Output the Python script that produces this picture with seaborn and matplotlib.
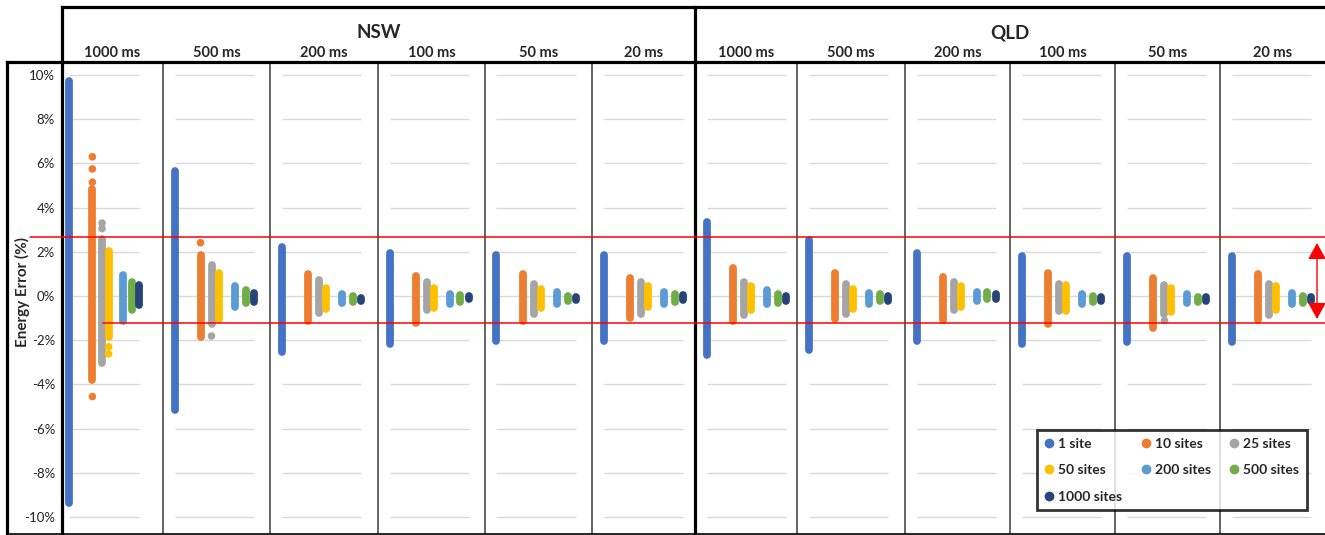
import matplotlib
matplotlib.use("Agg")
import matplotlib.pyplot as plt
from matplotlib.lines import Line2D
from matplotlib import transforms
import numpy as np
import pandas as pd
import seaborn as sns

# ---- data (energy error %, low / high of each strip of dots) ----
regions = ["NSW", "QLD"]
intervals = ["1000 ms", "500 ms", "200 ms", "100 ms", "50 ms", "20 ms"]
series = ["1 site", "10 sites", "25 sites", "50 sites", "200 sites", "500 sites", "1000 sites"]

# one (low, high) pair per panel: NSW 1000..20 ms, then QLD 1000..20 ms
s1 = [(-9.35, 9.75), (-5.15, 5.65), (-2.52, 2.2), (-2.15, 1.95), (-2.05, 1.85), (-2.05, 1.85),
      (-2.65, 3.35), (-2.45, 2.52), (-2.05, 1.95), (-2.15, 1.8), (-2.1, 1.8), (-2.1, 1.8)]
s10 = [(-3.8, 4.85), (-1.85, 1.85), (-1.12, 0.98), (-1.21, 0.9), (-1.15, 0.98), (-0.98, 0.8),
       (-1.15, 1.25), (-1.02, 1.05), (-1.07, 0.85), (-1.25, 1.05), (-1.43, 0.8), (-1.07, 0.98)]
s25 = [(-3.05, 2.6), (-1.25, 1.4), (-0.75, 0.71), (-0.62, 0.62), (-0.8, 0.53), (-0.8, 0.62),
       (-0.85, 0.62), (-0.8, 0.53), (-0.62, 0.62), (-0.66, 0.53), (-0.8, 0.48), (-0.85, 0.53)]
s50 = [(-1.85, 2.05), (-1.05, 1.05), (-0.6, 0.35), (-0.53, 0.35), (-0.53, 0.3), (-0.48, 0.45),
       (-0.62, 0.45), (-0.57, 0.3), (-0.48, 0.43), (-0.66, 0.48), (-0.71, 0.35), (-0.62, 0.43)]
s200 = [(-1.15, 0.95), (-0.48, 0.43), (-0.3, 0.08), (-0.35, 0.08), (-0.35, 0.17), (-0.35, 0.17),
        (-0.35, 0.25), (-0.35, 0.12), (-0.21, 0.17), (-0.35, 0.08), (-0.3, 0.08), (-0.35, 0.12)]
s500 = [(-0.62, 0.62), (-0.3, 0.25), (-0.26, 0.0), (-0.26, 0.03), (-0.21, -0.01), (-0.26, 0.08),
        (-0.3, 0.08), (-0.21, 0.08), (-0.15, 0.17), (-0.26, -0.01), (-0.26, -0.06), (-0.3, -0.01)]
s1000 = [(-0.4, 0.49), (-0.25, 0.15), (-0.21, -0.07), (-0.15, -0.01), (-0.17, -0.03), (-0.17, 0.03),
         (-0.21, -0.01), (-0.21, -0.01), (-0.12, 0.08), (-0.21, -0.06), (-0.21, -0.06), (-0.21, -0.06)]
ranges = [s1, s10, s25, s50, s200, s500, s1000]

# isolated dots outside the continuous strips: (panel index, series, value)
extra_points = [(0, "10 sites", 6.3), (0, "10 sites", 5.75), (0, "10 sites", 5.15), (0, "10 sites", -4.55),
                (0, "25 sites", 3.3), (0, "25 sites", 3.05),
                (0, "50 sites", -2.3), (0, "50 sites", -2.62),
                (1, "10 sites", 2.41), (1, "25 sites", -1.81),
                (10, "25 sites", -1.1)]

band = [2.67, -1.22]      # red reference lines
arrow_span = [2.40, -1.04]
yticks = list(range(-10, 11, 2))
ytick_labels = [f"{t}%" for t in yticks]

colors = ["#4472C4", "#ED7D31", "#A5A5A5", "#FFC000", "#5B9BD5", "#70AD47", "#264478"]
palette = dict(zip(series, colors))
offsets = [0, 26, 37, 44.5, 60.5, 71, 79.5]   # x position of each strip inside a panel
xpos = dict(zip(series, offsets))

rows = []
for s, rr in zip(series, ranges):
    for p, (lo, hi) in enumerate(rr):
        rows.append((p, s, xpos[s], lo))
        rows.append((p, s, xpos[s], hi))
df = pd.DataFrame(rows, columns=["panel", "series", "x", "value"])
pts = pd.DataFrame(extra_points, columns=["panel", "series", "value"])
pts["x"] = pts["series"].map(xpos)

# ---- figure ----
sns.set_style("white")
plt.rcParams["font.family"] = ["Lato", "DejaVu Sans"]

W, H = 1325, 535
fig = plt.figure(figsize=(W / 100, H / 100), dpi=100)


def fx(px):
    return px / W


def fy(py):
    return 1 - py / H


edges = [62, 163, 270, 378, 485, 592, 695, 797, 905, 1010, 1115, 1220, 1325]
top_px, bot_px = 62, 533
ylim = ((296 - bot_px) / 22.1, (296 - top_px) / 22.1)

axes = []
for i in range(12):
    l, r = edges[i], edges[i + 1]
    w = r - l
    ax = fig.add_axes([fx(l), fy(bot_px), w / W, (bot_px - top_px) / H])
    axes.append(ax)
    if i == 0:
        ax.set_xlim(-8.5, -8.5 + w / 0.88)
    else:
        ax.set_xlim(-11.5, w - 11.5)
    ax.set_ylim(*ylim)
    ax.hlines(yticks, offsets[0], offsets[-1], color="#d9d9d9", lw=1, zorder=0)

    d = df[df["panel"] == i]
    sns.lineplot(data=d, x="x", y="value", hue="series", units="series", estimator=None,
                 sort=False, palette=palette, lw=5.6, solid_capstyle="round", legend=False, ax=ax)
    p = pts[pts["panel"] == i]
    if len(p):
        sns.scatterplot(data=p, x="x", y="value", hue="series", palette=palette, s=30,
                        linewidth=0, legend=False, ax=ax, zorder=3)

    ax.set_xlabel("")
    ax.set_ylabel("")
    ax.set_xticks([])
    for sp in ["top", "right", "bottom"]:
        ax.spines[sp].set_visible(False)
    if i in (0, 6):
        ax.spines["left"].set_visible(False)
    else:
        ax.spines["left"].set_color("#3a3a3a")
        ax.spines["left"].set_linewidth(1.1)
    if i == 0:
        ax.set_yticks(yticks)
        ax.set_yticklabels(ytick_labels)
        ax.tick_params(axis="y", length=0, pad=5, labelsize=9.5, labelcolor="#222222")
    else:
        ax.set_yticks([])
    ax.text(0.5, 1 + 9 / (bot_px - top_px), intervals[i % 6], transform=ax.transAxes,
            ha="center", va="center", fontsize=10.5, fontweight="bold")

# region headers
fig.text(fx(378.5), fy(33), regions[0], ha="center", va="center", fontsize=13.5, fontweight="bold")
fig.text(fx(1010), fy(33), regions[1], ha="center", va="center", fontsize=13.5, fontweight="bold")
fig.text(fx(22.5), fy(292), "Energy Error (%)", rotation=90, ha="center", va="center",
         fontsize=11, fontweight="bold")

# frame lines
thick = dict(color="black", lw=2.3, transform=fig.transFigure, solid_capstyle="projecting")
frame = [([62, 1325], [7, 7]), ([62, 1325], [62, 62]), ([7, 62], [62, 62]),
         ([62, 62], [7, 535]), ([695, 695], [7, 535]), ([7, 7], [62, 535])]
for xs, ys in frame:
    fig.add_artist(Line2D([fx(v) for v in xs], [fy(v) for v in ys], **thick))
fig.add_artist(Line2D([fx(7), fx(1325)], [fy(533.5), fy(533.5)], color="black", lw=1.2,
                      transform=fig.transFigure))

# red band lines
blend = transforms.blended_transform_factory(fig.transFigure, axes[0].transData)
fig.add_artist(Line2D([fx(30), fx(1325)], [band[0], band[0]], color="red", lw=1.1,
                      transform=blend, zorder=10))
fig.add_artist(Line2D([fx(103), fx(1325)], [band[1], band[1]], color="red", lw=1.1,
                      transform=blend, zorder=10))
axes[-1].annotate("", xy=(0.924, arrow_span[0]), xytext=(0.924, arrow_span[1]),
                  xycoords=("axes fraction", "data"), textcoords=("axes fraction", "data"),
                  arrowprops=dict(arrowstyle="<|-|>,head_length=1.0,head_width=0.55",
                                  color="red", lw=1, mutation_scale=10, shrinkA=0, shrinkB=0),
                  annotation_clip=False, zorder=10)

# legend (row-major order like the original)
handles = [Line2D([], [], marker="o", ls="", markersize=6, color=c) for c in colors]
order = [0, 3, 6, 1, 4, 2, 5]
leg = fig.legend([handles[k] for k in order], [series[k] for k in order], ncol=3,
                 loc="upper left", bbox_to_anchor=(fx(1037), fy(430)),
                 frameon=True, fancybox=False, edgecolor="black",
                 prop=dict(weight="bold", size=10), handlelength=0.6, handletextpad=0.35,
                 columnspacing=1.4, labelspacing=1.05, borderpad=0.55, borderaxespad=0)
leg.get_frame().set_linewidth(2)
leg.set_zorder(20)

fig.savefig("out.png", dpi=100)
